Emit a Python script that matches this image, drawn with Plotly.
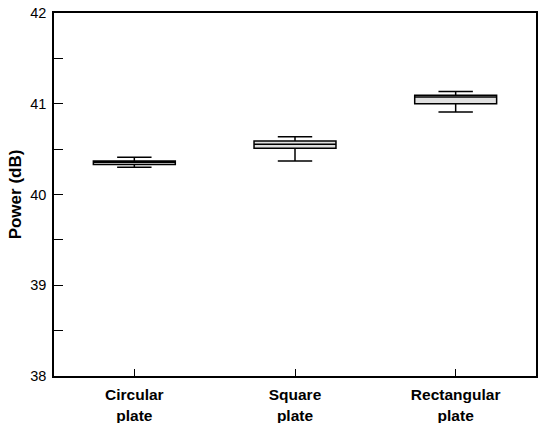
import plotly.graph_objects as go

categories = ["Circular<br>plate", "Square<br>plate", "Rectangular<br>plate"]
lower_whisker = [40.30, 40.37, 40.91]
q1 = [40.33, 40.51, 41.00]
median = [40.355, 40.553, 41.074]
q3 = [40.37, 40.59, 41.093]
upper_whisker = [40.41, 40.636, 41.135]

fig = go.Figure()
fig.add_trace(go.Box(
    x=categories,
    q1=q1, median=median, q3=q3,
    lowerfence=lower_whisker, upperfence=upper_whisker,
    fillcolor="#e0e0e0",
    line=dict(color="black", width=1.5),
    width=0.51,
    whiskerwidth=0.42,
    boxpoints=False,
    showlegend=False,
))

fig.update_layout(
    width=540, height=423,
    margin=dict(l=54, r=4, t=13, b=47, autoexpand=False),
    plot_bgcolor="white", paper_bgcolor="white",
    font=dict(family="Liberation Sans, Arial, sans-serif", color="black"),
    xaxis=dict(
        type="category", range=[-0.5, 2.5], automargin=False,
        showline=True, linecolor="black", linewidth=1.5, mirror=True,
        ticks="inside", ticklen=7, tickwidth=1, tickcolor="black",
        tickfont=dict(size=15.5, family="Liberation Sans, Arial, sans-serif", weight="bold"),
        ticklabelstandoff=4,
        showgrid=False, zeroline=False,
    ),
    yaxis=dict(
        range=[38, 42], automargin=False,
        tickvals=[38, 39, 40, 41, 42],
        showline=True, linecolor="black", linewidth=1.5, mirror=True,
        ticks="inside", ticklen=9, tickwidth=1, tickcolor="black",
        minor=dict(tickvals=[38.5, 39.5, 40.5, 41.5], ticks="inside", ticklen=9, tickcolor="black", tickwidth=1),
        tickfont=dict(size=14.5),
        ticklabelstandoff=3,
        title=dict(text="<b>Power (dB)</b>", font=dict(size=17), standoff=4),
        showgrid=False, zeroline=False,
    ),
)

fig.write_html(
    "out.html",
    config={"displayModeBar": False},
    post_script="document.body.style.margin='0';document.body.style.overflow='hidden';",
)
